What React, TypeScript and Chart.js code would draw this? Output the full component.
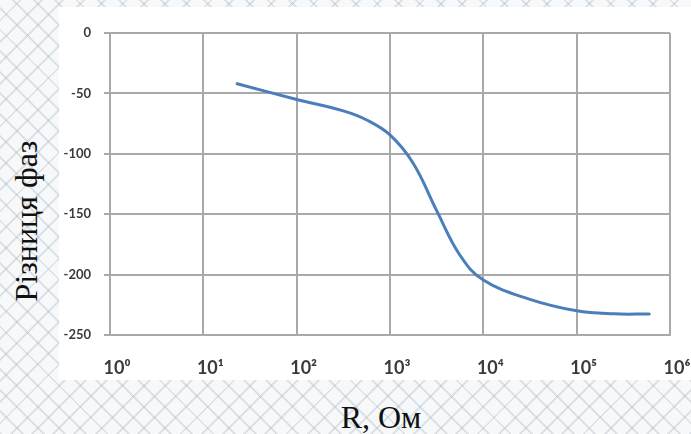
import React, { useEffect, useRef } from "react";
import { Chart, registerables } from "chart.js";

Chart.register(...registerables);

// Data
const resistance: number[] = [23, 100, 316, 562, 1000, 1778, 3162, 5623, 10000, 31623, 100000, 251189, 600000];
const phaseDiff: number[] = [-42, -55, -64.5, -72, -84.4, -108, -147, -184, -204.5, -220.5, -230, -232.5, -232.6];

const xTickValues: number[] = [1, 10, 100, 1000, 10000, 100000, 1000000];
const xTickLabels: string[] = ["10⁰", "10¹", "10²", "10³", "10⁴", "10⁵", "10⁶"];
const yMin = -250;
const yMax = 0;
const yStep = 50;

const yTitle = "Різниця фаз";
const xTitle = "R, Ом";

const GRID = "#a9a9a9";
const TICK_COLOR = "#3a3a3a";

export default function App() {
  const ref = useRef<HTMLCanvasElement | null>(null);

  useEffect(() => {
    if (!ref.current) return;
    const chart = new Chart(ref.current, {
      type: "line",
      data: {
        datasets: [
          {
            data: resistance.map((r, i) => ({ x: r, y: phaseDiff[i] })),
            borderColor: "#4a7ebb",
            borderWidth: 3,
            pointRadius: 0,
            tension: 0.4,
            borderCapStyle: "round",
            fill: false,
          },
        ],
      },
      options: {
        animation: false,
        responsive: false,
        devicePixelRatio: 1,
        layout: { padding: { left: 0, right: 21, top: 26, bottom: 0 } },
        plugins: { legend: { display: false }, tooltip: { enabled: false } },
        scales: {
          x: {
            type: "logarithmic",
            min: 1,
            max: 1000000,
            afterBuildTicks: (scale: any) => {
              scale.ticks = xTickValues.map((v) => ({ value: v }));
            },
            afterFit: (scale: any) => {
              scale.height = 45;
              scale.paddingLeft = 0;
              scale.paddingRight = 0;
            },
            grid: { color: GRID, lineWidth: 2, drawTicks: false },
            border: { display: true, color: GRID, width: 2 },
            ticks: {
              autoSkip: false,
              maxRotation: 0,
              padding: 22,
              labelOffset: 7,
              color: TICK_COLOR,
              font: { family: "Lato, 'Noto Sans', sans-serif", size: 18, weight: "bold" },
              callback: (value: any) => {
                const idx = xTickValues.indexOf(Number(value));
                return idx >= 0 ? xTickLabels[idx] : "";
              },
            },
          },
          y: {
            type: "linear",
            min: yMin,
            max: yMax,
            afterFit: (scale: any) => {
              scale.width = 51;
              scale.paddingTop = 0;
              scale.paddingBottom = 0;
            },
            grid: { color: GRID, lineWidth: 2, drawTicks: true, tickLength: 6 },
            border: { display: true, color: GRID, width: 2 },
            ticks: {
              stepSize: yStep,
              padding: 13,
              color: TICK_COLOR,
              font: { family: "Lato, 'Noto Sans', sans-serif", size: 13, weight: "bold" },
            },
          },
        },
      },
    } as any);
    return () => chart.destroy();
  }, []);

  const pattern =
    "repeating-linear-gradient(45deg, rgba(165,180,192,0.32) 0px, rgba(165,180,192,0.32) 2px, transparent 2px, transparent 15px)," +
    "repeating-linear-gradient(-45deg, rgba(165,180,192,0.32) 0px, rgba(165,180,192,0.32) 2px, transparent 2px, transparent 15px)," +
    "#f6f8f9";

  return (
    <div
      style={{
        position: "absolute",
        left: 0,
        top: 0,
        width: 691,
        height: 434,
        overflow: "hidden",
        background: pattern,
      }}
    >
      <div
        style={{
          position: "absolute",
          left: 59,
          top: 7,
          width: 632,
          height: 373,
          background: "#ffffff",
        }}
      >
        <canvas ref={ref} width={632} height={373} style={{ display: "block", width: 632, height: 373 }} />
      </div>
      <div
        style={{
          position: "absolute",
          left: 26,
          top: 221,
          transform: "translate(-50%, -50%) rotate(-90deg)",
          whiteSpace: "nowrap",
          fontFamily: "'Liberation Serif', 'Times New Roman', serif",
          fontSize: 32,
          lineHeight: 1,
          color: "#111",
        }}
      >
        {yTitle}
      </div>
      <div
        style={{
          position: "absolute",
          left: 381,
          top: 401,
          transform: "translateX(-50%)",
          whiteSpace: "nowrap",
          fontFamily: "'Liberation Serif', 'Times New Roman', serif",
          fontSize: 32,
          lineHeight: 1,
          color: "#111",
        }}
      >
        {xTitle}
      </div>
    </div>
  );
}
